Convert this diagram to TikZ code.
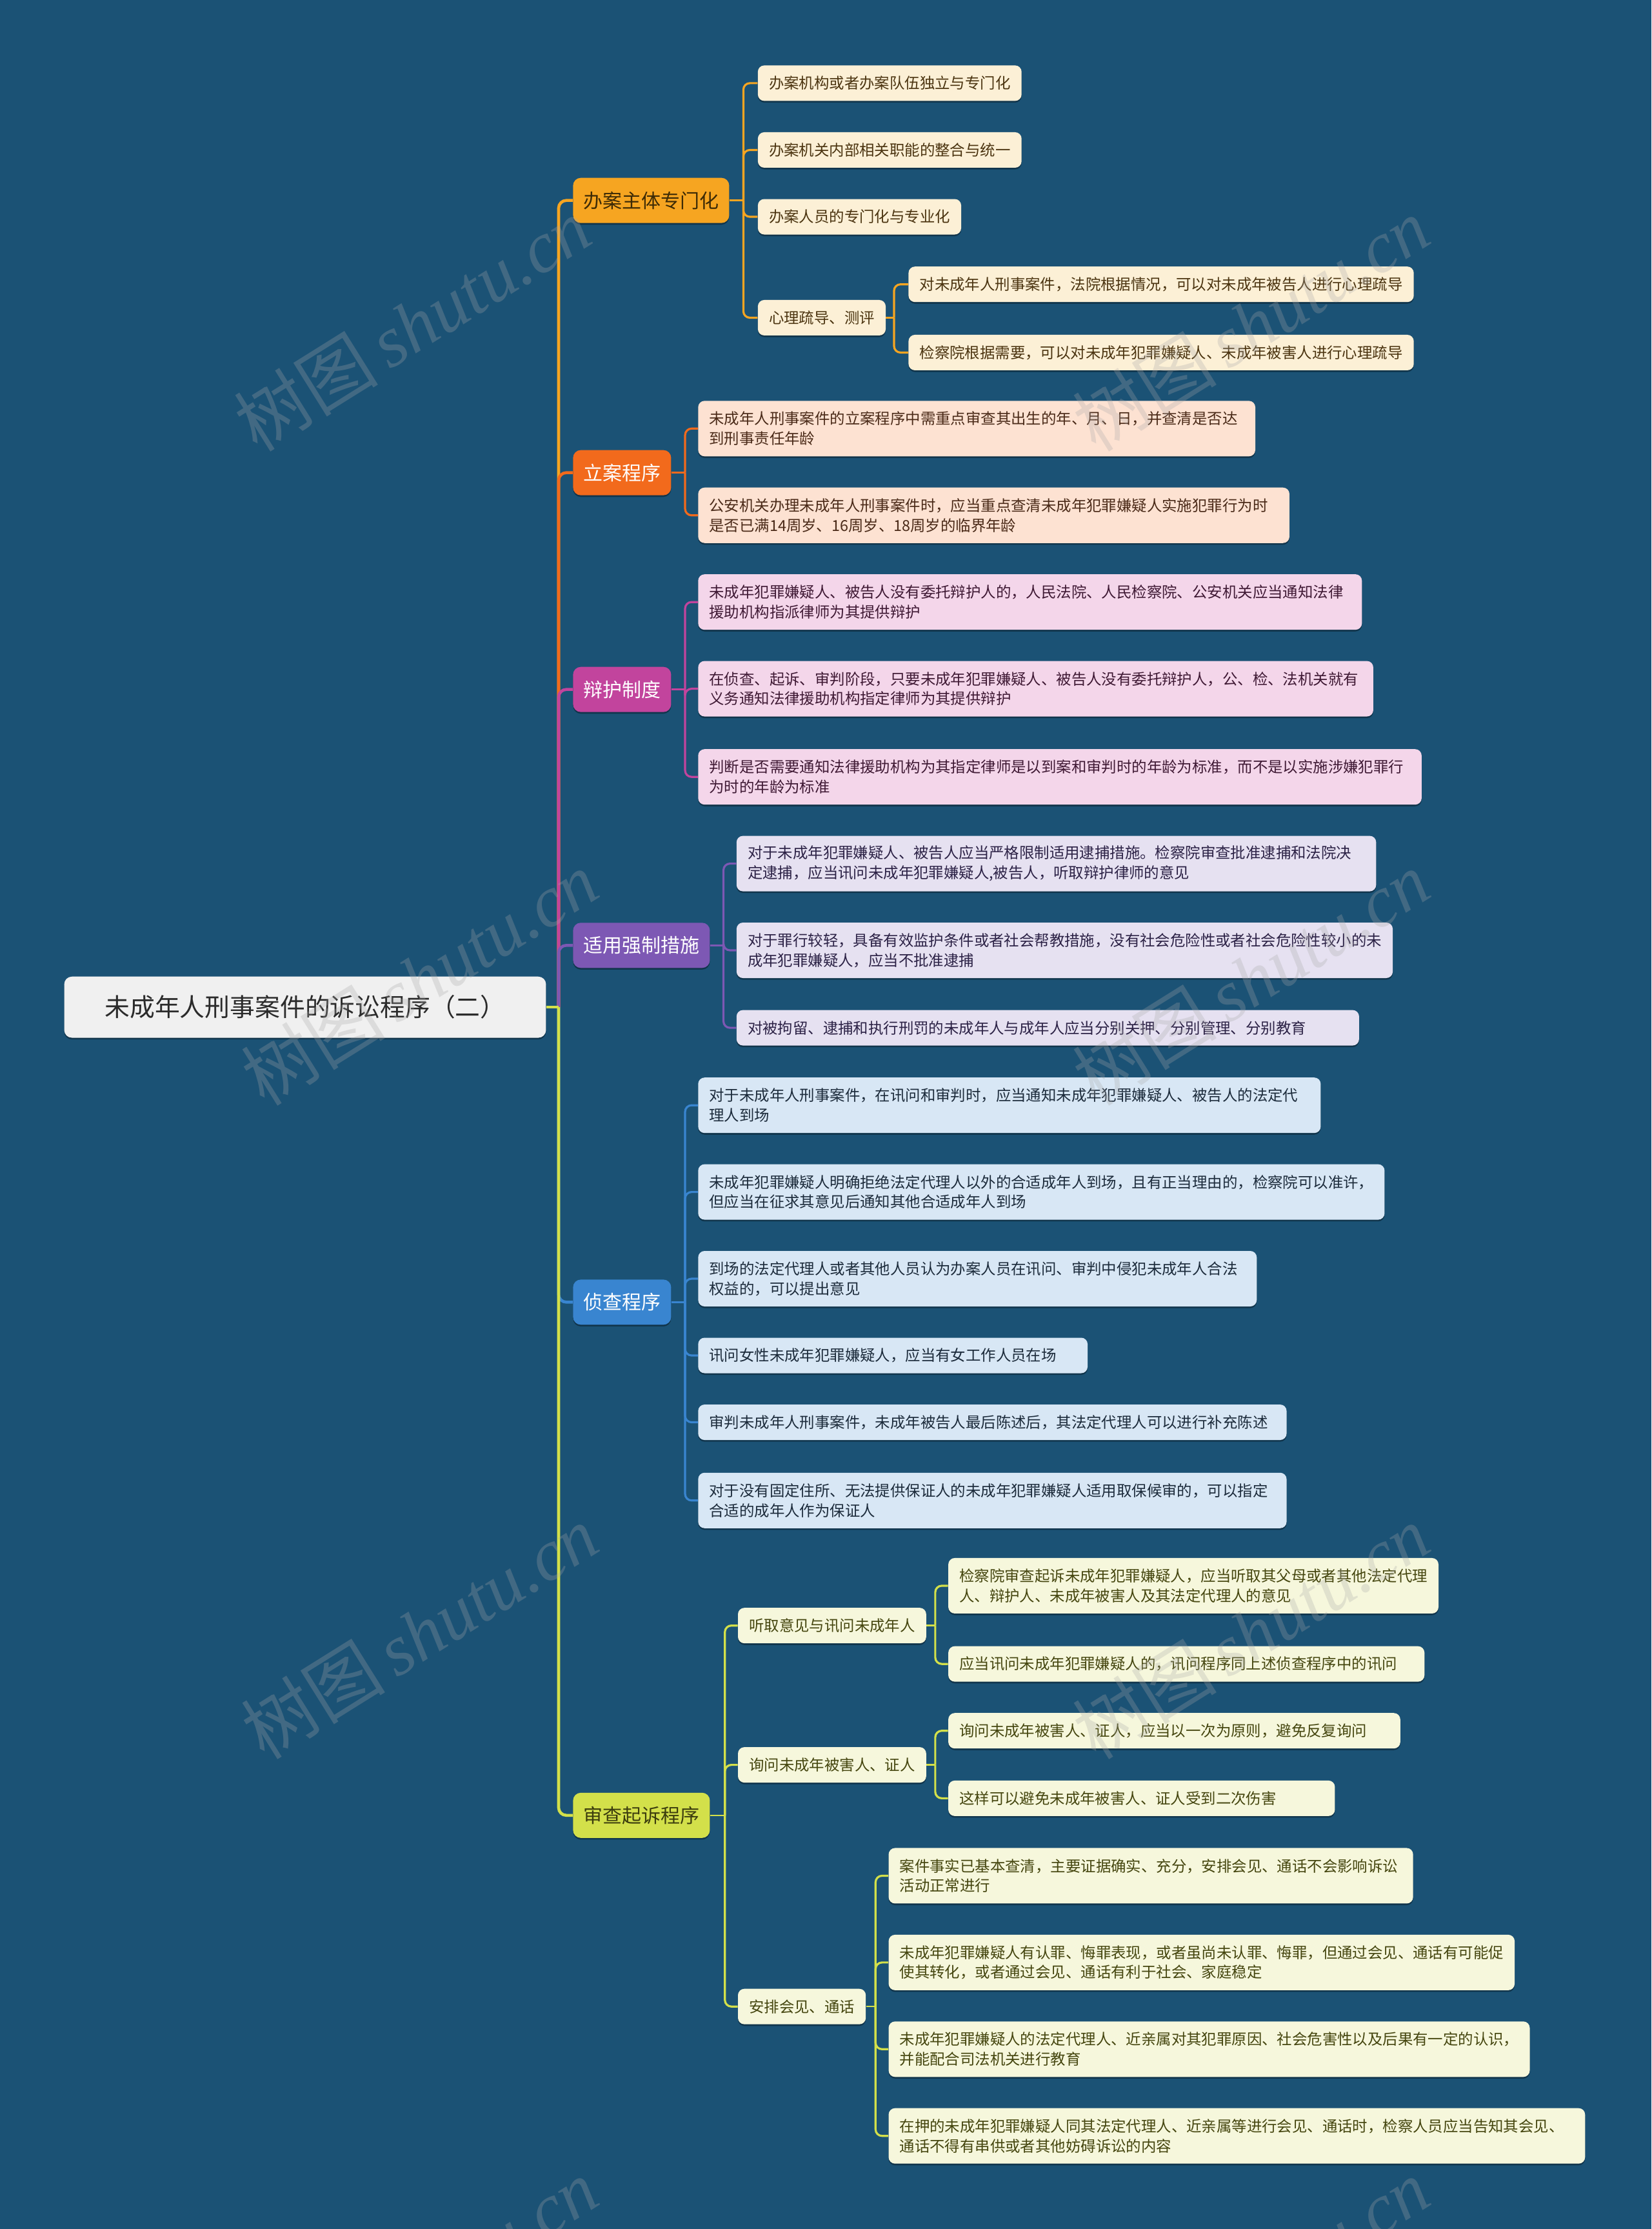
\documentclass[tikz,border=0pt]{standalone}
\usepackage{fontspec}
\setmainfont{Noto Sans CJK SC}
\newfontfamily\wmlat{Liberation Serif}
\usetikzlibrary{shadows,calc}
\pgfdeclarelayer{bg}
\pgfdeclarelayer{edges}
\pgfsetlayers{bg,edges,main}
\definecolor{bgc}{HTML}{1B5275}
\definecolor{rootf}{HTML}{F0F0F0}
\definecolor{roott}{HTML}{2B2B2B}
\definecolor{cA}{HTML}{F6A521}\definecolor{cAl}{HTML}{FCF0D6}\definecolor{cAt}{HTML}{4B3410}\definecolor{cAbt}{HTML}{3D2B06}
\definecolor{cB}{HTML}{F26A1C}\definecolor{cBl}{HTML}{FDE2D2}\definecolor{cBt}{HTML}{4A2A18}
\definecolor{cC}{HTML}{C2449D}\definecolor{cCl}{HTML}{F4D6EA}\definecolor{cCt}{HTML}{3F1934}
\definecolor{cD}{HTML}{7D58B4}\definecolor{cDl}{HTML}{E6E1F1}\definecolor{cDt}{HTML}{2C2246}
\definecolor{cE}{HTML}{3985D0}\definecolor{cEl}{HTML}{D8E7F5}\definecolor{cEt}{HTML}{1C2B3B}
\definecolor{cF}{HTML}{D3E04A}\definecolor{cFl}{HTML}{F6F7DC}\definecolor{cFt}{HTML}{45460F}\definecolor{cFbt}{HTML}{3C3D0E}
\definecolor{wmc}{HTML}{A8A8A8}
\begin{document}
\begin{tikzpicture}[x=1.1016pt,y=-1.1016pt,
  shd/.style={drop shadow={shadow xshift=0pt,shadow yshift=-1.3pt,fill=black,opacity=0.35}},
  box/.style={rounded corners=5pt,anchor=west,inner xsep=8.6pt,inner ysep=3pt,align=left,shd,
    font=\fontsize{11.7pt}{15.4pt}\selectfont},
  wd/.code={\pgfmathsetmacro\tmpw{#1*1.1016-17.2}\edef\tmpx{\noexpand\tikzset{text width=\tmpw pt}}\tmpx},
  oneline/.style={minimum height=27.5pt},
  twoline/.style={minimum height=43pt},
  branchbox/.style={rounded corners=6pt,anchor=west,inner xsep=8pt,inner ysep=3pt,minimum height=35pt,shd,
    font=\fontsize{15pt}{18pt}\selectfont},
  lA/.style={box,fill=cAl,text=cAt}, lB/.style={box,fill=cBl,text=cBt},
  lC/.style={box,fill=cCl,text=cCt}, lD/.style={box,fill=cDl,text=cDt},
  lE/.style={box,fill=cEl,text=cEt}, lF/.style={box,fill=cFl,text=cFt},
  trunk/.style={line width=2.3pt,rounded corners=6pt},
  twig/.style={line width=1.6pt,rounded corners=5pt},
  stub/.style={line width=1.2pt},
  wm/.style={rotate=32,text=wmc,text opacity=0.28,font=\fontsize{56pt}{60pt}\selectfont}
]
\begin{pgfonlayer}{bg}
\fill[bgc] (0,0) rectangle (1162,1568);
\end{pgfonlayer}
\useasboundingbox (0,0) rectangle (1162,1568);

% root
\node[rounded corners=6pt,anchor=west,fill=rootf,text=roott,minimum width=373.4pt,minimum height=47.4pt,shd,
  font=\fontsize{19.4pt}{22pt}\selectfont] (root) at (45,708.5) {未成年人刑事案件的诉讼程序（二）};

% branches
\node[branchbox,fill=cA,text=cAbt] (b1) at (403,141) {办案主体专门化};
\node[branchbox,fill=cB,text=white] (b2) at (403,332.5) {立案程序};
\node[branchbox,fill=cC,text=white] (b3) at (403,485) {辩护制度};
\node[branchbox,fill=cD,text=white] (b4) at (403,665) {适用强制措施};
\node[branchbox,fill=cE,text=white] (b5) at (403,916) {侦查程序};
\node[branchbox,fill=cF,text=cFbt] (b6) at (403,1277) {审查起诉程序};

% branch 1
\node[lA,oneline] (l11) at (533,58.5) {办案机构或者办案队伍独立与专门化};
\node[lA,oneline] (l12) at (533,105.5) {办案机关内部相关职能的整合与统一};
\node[lA,oneline] (l13) at (533,152.5) {办案人员的专门化与专业化};
\node[lA,oneline] (l14) at (533,223.5) {心理疏导、测评};
\node[lA,oneline] (l141) at (639,200) {对未成年人刑事案件，法院根据情况，可以对未成年被告人进行心理疏导};
\node[lA,oneline] (l142) at (639,248) {检察院根据需要，可以对未成年犯罪嫌疑人、未成年被害人进行心理疏导};

% branch 2
\node[lB,twoline,wd=392] (l21) at (491,301.5) {未成年人刑事案件的立案程序中需重点审查其出生的年、月、日，并查清是否达\\到刑事责任年龄};
\node[lB,twoline,wd=416] (l22) at (491,362.5) {公安机关办理未成年人刑事案件时，应当重点查清未成年犯罪嫌疑人实施犯罪行为时\\是否已满14周岁、16周岁、18周岁的临界年龄};

% branch 3
\node[lC,twoline,wd=467] (l31) at (491,423.5) {未成年犯罪嫌疑人、被告人没有委托辩护人的，人民法院、人民检察院、公安机关应当通知法律\\援助机构指派律师为其提供辩护};
\node[lC,twoline,wd=475] (l32) at (491,484.5) {在侦查、起诉、审判阶段，只要未成年犯罪嫌疑人、被告人没有委托辩护人，公、检、法机关就有\\义务通知法律援助机构指定律师为其提供辩护};
\node[lC,twoline,wd=509] (l33) at (491,546.5) {判断是否需要通知法律援助机构为其指定律师是以到案和审判时的年龄为标准，而不是以实施涉嫌犯罪行\\为时的年龄为标准};

% branch 4
\node[lD,twoline,wd=450] (l41) at (518,607.5) {对于未成年犯罪嫌疑人、被告人应当严格限制适用逮捕措施。检察院审查批准逮捕和法院决\\定逮捕，应当讯问未成年犯罪嫌疑人,被告人，听取辩护律师的意见};
\node[lD,twoline] (l42) at (518,668.5) {对于罪行较轻，具备有效监护条件或者社会帮教措施，没有社会危险性或者社会危险性较小的未\\成年犯罪嫌疑人，应当不批准逮捕};
\node[lD,oneline,wd=438] (l43) at (518,723) {对被拘留、逮捕和执行刑罚的未成年人与成年人应当分别关押、分别管理、分别教育};

% branch 5
\node[lE,twoline,wd=438] (l51) at (491,777.5) {对于未成年人刑事案件，在讯问和审判时，应当通知未成年犯罪嫌疑人、被告人的法定代\\理人到场};
\node[lE,twoline] (l52) at (491,838.5) {未成年犯罪嫌疑人明确拒绝法定代理人以外的合适成年人到场，且有正当理由的，检察院可以准许，\\但应当在征求其意见后通知其他合适成年人到场};
\node[lE,twoline,wd=393] (l53) at (491,899.5) {到场的法定代理人或者其他人员认为办案人员在讯问、审判中侵犯未成年人合法\\权益的，可以提出意见};
\node[lE,oneline,wd=274] (l54) at (491,953.5) {讯问女性未成年犯罪嫌疑人，应当有女工作人员在场};
\node[lE,oneline,wd=414] (l55) at (491,1000.5) {审判未成年人刑事案件，未成年被告人最后陈述后，其法定代理人可以进行补充陈述};
\node[lE,twoline,wd=414] (l56) at (491,1055.5) {对于没有固定住所、无法提供保证人的未成年犯罪嫌疑人适用取保候审的，可以指定\\合适的成年人作为保证人};

% branch 6
\node[lF,oneline] (l61) at (519,1143.5) {听取意见与讯问未成年人};
\node[lF,twoline] (l611) at (667,1115.5) {检察院审查起诉未成年犯罪嫌疑人，应当听取其父母或者其他法定代理\\人、辩护人、未成年被害人及其法定代理人的意见};
\node[lF,oneline,wd=335] (l612) at (667,1170.5) {应当讯问未成年犯罪嫌疑人的，讯问程序同上述侦查程序中的讯问};
\node[lF,oneline] (l62) at (519,1241.5) {询问未成年被害人、证人};
\node[lF,oneline,wd=318] (l621) at (667,1217.5) {询问未成年被害人、证人，应当以一次为原则，避免反复询问};
\node[lF,oneline,wd=272] (l622) at (667,1265) {这样可以避免未成年被害人、证人受到二次伤害};
\node[lF,oneline] (l63) at (519,1411.5) {安排会见、通话};
\node[lF,twoline,wd=369] (l631) at (625,1319.5) {案件事实已基本查清，主要证据确实、充分，安排会见、通话不会影响诉讼\\活动正常进行};
\node[lF,twoline] (l632) at (625,1380.5) {未成年犯罪嫌疑人有认罪、悔罪表现，或者虽尚未认罪、悔罪，但通过会见、通话有可能促\\使其转化，或者通过会见、通话有利于社会、家庭稳定};
\node[lF,twoline] (l633) at (625,1441.5) {未成年犯罪嫌疑人的法定代理人、近亲属对其犯罪原因、社会危害性以及后果有一定的认识，\\并能配合司法机关进行教育};
\node[lF,twoline,wd=490] (l634) at (625,1502.5) {在押的未成年犯罪嫌疑人同其法定代理人、近亲属等进行会见、通话时，检察人员应当告知其会见、\\通话不得有串供或者其他妨碍诉讼的内容};

% junctions
\coordinate (j0) at (393,708.5);
\coordinate (j1) at (523,141);
\coordinate (j14) at (629,223.5);
\coordinate (j2) at (482,332.5);
\coordinate (j3) at (482,485);
\coordinate (j4) at (509,665);
\coordinate (j5) at (482,916);
\coordinate (j6) at (510,1277);
\coordinate (j61) at (658,1143.5);
\coordinate (j62) at (658,1241.5);
\coordinate (j63) at (616,1411.5);

\begin{pgfonlayer}{edges}
% root to branches
\foreach \b/\c in {b1/cA,b2/cB,b3/cC,b4/cD,b5/cE,b6/cF}{
  \draw[trunk,\c] (root.east) -- (j0);
  \draw[trunk,\c] (j0) |- (\b.west);
}
% branch 1
\draw[stub,cA] (b1.east) -- (j1);
\foreach \l in {l11,l12,l13,l14} \draw[twig,cA] (j1) |- (\l.west);
\draw[stub,cA] (l14.east) -- (j14);
\foreach \l in {l141,l142} \draw[twig,cA] (j14) |- (\l.west);
% branch 2
\draw[stub,cB] (b2.east) -- (j2);
\foreach \l in {l21,l22} \draw[twig,cB] (j2) |- (\l.west);
% branch 3
\draw[stub,cC] (b3.east) -- (j3);
\foreach \l in {l31,l32,l33} \draw[twig,cC] (j3) |- (\l.west);
% branch 4
\draw[stub,cD] (b4.east) -- (j4);
\foreach \l in {l41,l42,l43} \draw[twig,cD] (j4) |- (\l.west);
% branch 5
\draw[stub,cE] (b5.east) -- (j5);
\foreach \l in {l51,l52,l53,l54,l55,l56} \draw[twig,cE] (j5) |- (\l.west);
% branch 6
\draw[stub,cF] (b6.east) -- (j6);
\foreach \l in {l61,l62,l63} \draw[twig,cF] (j6) |- (\l.west);
\draw[stub,cF] (l61.east) -- (j61);
\foreach \l in {l611,l612} \draw[twig,cF] (j61) |- (\l.west);
\draw[stub,cF] (l62.east) -- (j62);
\foreach \l in {l621,l622} \draw[twig,cF] (j62) |- (\l.west);
\draw[stub,cF] (l63.east) -- (j63);
\foreach \l in {l631,l632,l633,l634} \draw[twig,cF] (j63) |- (\l.west);
\end{pgfonlayer}

% watermarks
\foreach \p [count=\i] in {(290,228),(880,228),(295,688),(880,688),(295,1148),(880,1148),(295,1608),(880,1608)}{
  \node[wm] (wm\i) at \p {树图\,{\wmlat\itshape shutu.cn}};
}
\end{tikzpicture}
\end{document}
